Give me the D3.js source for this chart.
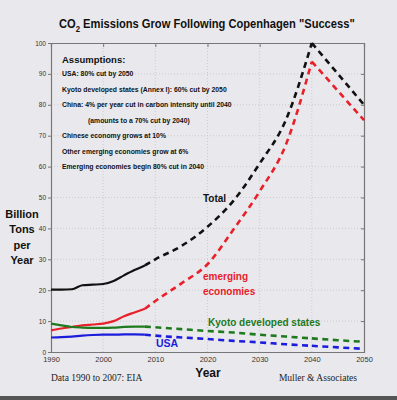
<html>
<head>
  <script src="https://d3js.org/d3.v7.min.js"></script>
  <style>
    body { margin: 0; background: #e9e9ed; }
  </style>
</head>
<body>
  <div id="chart"></div>
  <script>

    // historical data (solid lines)
    var histYears   = [1990, 1992, 1994, 1996, 1998, 2000, 2002, 2004, 2006, 2008];
    var histTotal   = [20.2, 20.2, 20.3, 21.6, 21.8, 22.0, 23.0, 24.8, 26.5, 28.0];
    var histEmerg   = [7.0, 7.6, 8.1, 8.6, 8.9, 9.2, 10.0, 11.6, 12.8, 14.0];
    var histKyoto   = [9.2, 8.6, 8.1, 7.9, 7.8, 7.8, 7.9, 8.1, 8.2, 8.2];
    var histUSA     = [4.7, 4.8, 5.0, 5.3, 5.5, 5.6, 5.6, 5.7, 5.7, 5.6];

    // projections (dashed lines)
    var projYears   = [2008, 2010, 2015, 2020, 2025, 2030, 2035, 2040, 2045, 2050];
    var projTotal   = [28.0, 30.0, 34.3, 40.5, 49.0, 61.0, 75.0, 100, 90, 80];
    var projEmerg   = [14.0, 16.5, 22.2, 28.4, 39.7, 52.0, 67.0, 94, 84.5, 75];
    var projKyoto   = [8.2, 8.0, 7.4, 6.8, 6.3, 5.6, 5.0, 4.4, 3.8, 3.3];
    var projUSA     = [5.6, 5.3, 4.7, 4.2, 3.6, 3.1, 2.5, 2.0, 1.5, 1.0];

    var xTicks = [1990, 2000, 2010, 2020, 2030, 2040, 2050];
    var yTicks = [0, 10, 20, 30, 40, 50, 60, 70, 80, 90, 100];

    var assumptions = [
      "USA: 80% cut by 2050",
      "Kyoto developed states (Annex I): 60% cut by 2050",
      "China: 4% per year cut in carbon intensity until 2040",
      "(amounts to a 70% cut by 2040)",
      "Chinese economy grows at 10%",
      "Other emerging economies grow at 6%",
      "Emerging economies begin 80% cut in 2040"
    ];

    var SANS = "'Liberation Sans', Arial, sans-serif";
    var SERIF = "'Liberation Serif', 'Times New Roman', serif";
    var W = 397, H = 400;
    var x = d3.scaleLinear().domain([1990, 2050]).range([51, 364]);
    var y = d3.scaleLinear().domain([0, 100]).range([352, 43]);

    var svg = d3.select("#chart").append("svg")
      .attr("width", W).attr("height", H)
      .style("font-family", SANS);

    svg.append("rect").attr("width", W).attr("height", H).attr("fill", "#e9e9ed");
    svg.append("rect").attr("x", 0).attr("y", 396).attr("width", W).attr("height", 4).attr("fill", "#555");

    // grid
    var grid = svg.append("g").attr("stroke", "#c4c4c8").attr("stroke-dasharray", "1,2").attr("stroke-width", 0.8);
    grid.selectAll(".gx").data(xTicks.slice(1, -1)).join("line")
      .attr("x1", d => x(d)).attr("x2", d => x(d)).attr("y1", y(0)).attr("y2", y(100));
    grid.selectAll(".gy").data(yTicks.slice(1, -1)).join("line")
      .attr("y1", d => y(d)).attr("y2", d => y(d)).attr("x1", x(1990)).attr("x2", x(2050));

    // axes
    var left = svg.append("g").attr("transform", `translate(${x(1990)},0)`)
      .call(d3.axisLeft(y).tickValues(yTicks).tickSize(3).tickPadding(2));
    left.selectAll("text").attr("font-size", 6.5).attr("fill", "#333").style("font-family", SANS);
    var bottom = svg.append("g").attr("transform", `translate(0,${y(0)})`)
      .call(d3.axisBottom(x).tickValues(xTicks).tickFormat(d3.format("d")).tickSize(0).tickPadding(5));
    bottom.selectAll("text").attr("font-size", 7.5).attr("fill", "#333").style("font-family", SANS);
    svg.append("g").attr("transform", `translate(0,${y(100)})`)
      .call(d3.axisBottom(x).tickValues(xTicks).tickSize(4).tickFormat(""));
    svg.append("g").attr("transform", `translate(${x(2050)},0)`)
      .call(d3.axisRight(y).tickValues(yTicks).tickSize(-3).tickFormat(""));
    svg.selectAll(".domain").attr("stroke", "#777").attr("stroke-width", 1.2);
    svg.selectAll(".tick line").attr("stroke", "#777");

    // lines
    var line = d3.line().x(d => x(d[0])).y(d => y(d[1])).curve(d3.curveMonotoneX);
    var straight = d3.line().x(d => x(d[0])).y(d => y(d[1]));
    var series = [
      {hist: histTotal, proj: projTotal, color: "#111111"},
      {hist: histEmerg, proj: projEmerg, color: "#e8202a"},
      {hist: histKyoto, proj: projKyoto, color: "#1d7a1d"},
      {hist: histUSA,   proj: projUSA,   color: "#1c1cdc"}
    ];
    var peak = projYears.indexOf(2040);
    series.forEach(function(s) {
      svg.append("path")
        .attr("d", line(histYears.map((yr, i) => [yr, s.hist[i]])))
        .attr("fill", "none").attr("stroke", s.color).attr("stroke-width", 2.2);
      var pts = projYears.map((yr, i) => [yr, s.proj[i]]);
      [pts.slice(0, peak + 1), pts.slice(peak)].forEach(function(seg, k) {
        svg.append("path")
          .attr("d", k === 0 ? line(seg) : straight(seg))
          .attr("fill", "none").attr("stroke", s.color).attr("stroke-width", 2.6)
          .attr("stroke-dasharray", "6,4.5");
      });
    });

    // title, squeezed to the reference width
    var tg = svg.append("g");
    var title = tg.append("text").attr("x", 0).attr("y", 0)
      .attr("font-size", 13).attr("font-weight", "bold").attr("fill", "#111");
    title.append("tspan").text("CO");
    title.append("tspan").attr("font-size", 9).attr("dy", 4).text("2");
    title.append("tspan").attr("dy", -4).text(" Emissions Grow Following Copenhagen \"Success\"");
    var tw = title.node().getComputedTextLength();
    tg.attr("transform", `translate(59,28) scale(${296 / tw},1)`);

    // assumptions
    svg.append("text").attr("x", 62).attr("y", 63).attr("font-size", 9.5).attr("font-weight", "bold")
      .attr("fill", "#111").text("Assumptions:");
    svg.selectAll(".asm").data(assumptions).join("text")
      .attr("x", (d, i) => i === 3 ? 88 : 62)
      .attr("y", (d, i) => 76.5 + i * 15.5)
      .attr("font-size", 7.6).attr("font-weight", "bold").attr("fill", "#111")
      .attr("transform", (d, i) => { var x0 = i === 3 ? 88 : 62; return `translate(${x0},0) scale(0.9,1) translate(${-x0},0)`; })
      .text(d => d);

    // series labels
    function label(txt, lx, ly, color, size) {
      svg.append("text").attr("x", lx).attr("y", ly).attr("font-size", size || 10)
        .attr("font-weight", "bold").attr("fill", color).text(txt);
    }
    label("Total", 203, 202, "#111");
    label("emerging", 203, 280, "#e8202a");
    label("economies", 203, 295, "#e8202a");
    label("Kyoto developed states", 208, 326, "#1d7a1d");
    label("USA", 156, 347, "#1c1cdc", 10.5);

    // axis titles
    svg.selectAll(".ylab").data(["Billion", "Tons", "per", "Year"]).join("text")
      .attr("x", 22).attr("y", (d, i) => 218 + i * 15.3).attr("text-anchor", "middle")
      .attr("font-size", 11).attr("font-weight", "bold").attr("fill", "#111").text(d => d);
    svg.append("text").attr("x", 208).attr("y", 377).attr("text-anchor", "middle")
      .attr("font-size", 12).attr("font-weight", "bold").attr("fill", "#111").text("Year");

    svg.append("text").attr("x", 51).attr("y", 381).attr("font-size", 9.5)
      .style("font-family", SERIF).attr("fill", "#222")
      .text("Data 1990 to 2007: EIA");
    svg.append("text").attr("x", 357).attr("y", 381).attr("text-anchor", "end").attr("font-size", 9.5)
      .style("font-family", SERIF).attr("fill", "#222")
      .text("Muller & Associates");

  </script>
</body>
</html>
